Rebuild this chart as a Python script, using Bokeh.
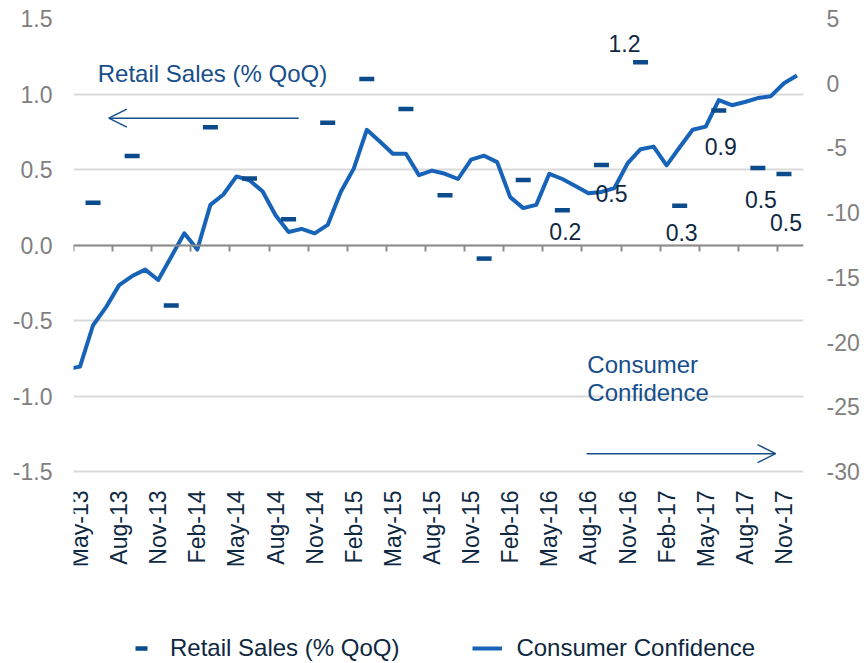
import math
import pandas as pd
from bokeh.plotting import figure
from bokeh.models import (ColumnDataSource, Range1d, LinearAxis, FixedTicker, NumeralTickFormatter,
                          Legend, LegendItem, Arrow, OpenHead, Label, Grid)
from bokeh.embed import file_html
from bokeh.resources import INLINE
from bokeh.core.properties import value

# ---------------- data ----------------
cc_months = [d.strftime("%b-%y") for d in pd.date_range("2013-04-01", "2017-12-01", freq="MS")]
cc_values = [-22.1, -21.9, -18.7, -17.3, -15.6, -14.9, -14.4, -15.2, -13.4, -11.6, -12.85, -9.4, -8.6,
             -7.2, -7.5, -8.35, -10.2, -11.5, -11.25, -11.6, -10.95, -8.4, -6.6, -3.6, -4.5, -5.45,
             -5.45, -7.1, -6.75, -7.0, -7.4, -5.9, -5.6, -6.1, -8.8, -9.65, -9.4, -7.0, -7.4, -7.95,
             -8.5, -8.4, -8.1, -6.2, -5.1, -4.9, -6.35, -4.95, -3.6, -3.35, -1.3, -1.7, -1.45, -1.15,
             -1.0, 0.0, 0.6]

retail_months = ["Jun-13", "Sep-13", "Dec-13", "Mar-14", "Jun-14", "Sep-14", "Dec-14", "Mar-15",
                 "Jun-15", "Sep-15", "Dec-15", "Mar-16", "Jun-16", "Sep-16", "Dec-16", "Mar-17",
                 "Jun-17", "Sep-17", "Nov-17"]
retail_values = [0.28, 0.59, -0.40, 0.78, 0.44, 0.17, 0.81, 1.10, 0.90, 0.33, -0.09, 0.43, 0.23,
                 0.53, 1.21, 0.26, 0.89, 0.51, 0.47]

labelled_months = ["Jun-16", "Sep-16", "Dec-16", "Mar-17", "Jun-17", "Sep-17", "Nov-17"]

tick_labels = ["May-13", "Aug-13", "Nov-13", "Feb-14", "May-14", "Aug-14", "Nov-14", "Feb-15",
               "May-15", "Aug-15", "Nov-15", "Feb-16", "May-16", "Aug-16", "Nov-16", "Feb-17",
               "May-17", "Aug-17", "Nov-17"]
first_month, last_month = "May-13", "Dec-17"
left_ticks = [-1.5, -1.0, -0.5, 0.0, 0.5, 1.0, 1.5]
right_ticks = [-30, -25, -20, -15, -10, -5, 0, 5]

# ---------------- layout ----------------
W, H = 864, 663
FRAME_TOP, AXIS_BOTTOM = 18, 471          # pixel rows of the top and bottom value ticks
base = cc_months.index(first_month)
pos = {m: i - base for i, m in enumerate(cc_months)}
# the frame reaches the bottom of the page, so that the legend can sit inside it
ext = (H - FRAME_TOP) / (AXIS_BOTTOM - FRAME_TOP)
l_lo, l_hi = left_ticks[0], left_ticks[-1]
r_lo, r_hi = right_ticks[0], right_ticks[-1]
y_start_left = l_hi - (l_hi - l_lo) * ext
y_start_right = r_hi - (r_hi - r_lo) * ext

# screen offsets of the value labels (px, +down)
label_offsets = {"Jun-16": (3, 21), "Sep-16": (10, 29), "Dec-16": (-16, -19), "Mar-17": (2, 27),
                 "Jun-17": (2, 36), "Sep-17": (3, 32), "Nov-17": (2, 48)}

FONT = "Liberation Sans"
NAVY = "#0E2841"
GREY = "#7F7F7F"
LINE_BLUE = "#1763B7"
DASH_BLUE = "#0B4A8B"
ANN_BLUE = "#174E8C"

p = figure(width=W, height=H, output_backend="svg", toolbar_location=None,
           x_range=Range1d(pos[first_month] - 0.5, pos[last_month] + 0.5),
           y_range=Range1d(y_start_left, l_hi),
           x_axis_type=None, y_axis_type=None,
           min_border_left=73, min_border_right=61, min_border_top=FRAME_TOP, min_border_bottom=0)
p.extra_y_ranges = {"cc": Range1d(y_start_right, r_hi)}
p.outline_line_color = None
p.background_fill_color = "white"
p.border_fill_color = "white"

# left axis
yl = LinearAxis(ticker=FixedTicker(ticks=left_ticks), formatter=NumeralTickFormatter(format="0.0"),
                axis_line_color=None, major_tick_line_color=None, minor_tick_line_color=None,
                major_tick_in=0, major_tick_out=0, major_label_standoff=21,
                major_label_text_font=FONT, major_label_text_font_size="23px",
                major_label_text_color=GREY)
p.add_layout(yl, "left")

# right axis
yr = LinearAxis(y_range_name="cc", ticker=FixedTicker(ticks=right_ticks),
                formatter=NumeralTickFormatter(format="0"),
                axis_line_color=None, major_tick_line_color=None, minor_tick_line_color=None,
                major_tick_in=0, major_tick_out=0, major_label_standoff=23,
                major_label_text_font=FONT, major_label_text_font_size="23px",
                major_label_text_color=GREY)
p.add_layout(yr, "right")

# grid
p.add_layout(Grid(dimension=1, ticker=FixedTicker(ticks=left_ticks), grid_line_color="#D9D9D9",
                  grid_line_width=2))

# bottom labels axis, sitting under the lowest value tick
label_pos = [pos[t] for t in tick_labels]
xb = LinearAxis(fixed_location=l_lo, ticker=FixedTicker(ticks=label_pos),
                major_label_overrides={lp: t for lp, t in zip(label_pos, tick_labels)},
                major_label_orientation=math.pi / 2,
                axis_line_color=None, major_tick_line_color=None, minor_tick_line_color=None,
                major_tick_in=0, major_tick_out=0, major_label_standoff=19,
                major_label_text_font=FONT, major_label_text_font_size="23px",
                major_label_text_color=NAVY)
p.add_layout(xb, "below")

# zero line with category boundary ticks
x0 = LinearAxis(fixed_location=0, ticker=FixedTicker(ticks=[lp - 0.5 for lp in label_pos]),
                major_label_overrides={lp - 0.5: "" for lp in label_pos},
                axis_line_color="#8C8C8C", axis_line_width=2,
                major_tick_line_color="#8C8C8C", major_tick_line_width=2,
                major_tick_in=0, major_tick_out=6, minor_tick_line_color=None,
                major_label_text_font_size="0px")
p.add_layout(x0, "below")

# consumer confidence line
cc_src = ColumnDataSource(dict(x=[pos[m] for m in cc_months], y=cc_values))
r_cc = p.line("x", "y", source=cc_src, y_range_name="cc", line_color=LINE_BLUE, line_width=4,
              line_join="round")

# retail sales dashes
rs_src = ColumnDataSource(dict(x=[pos[m] for m in retail_months], y=retail_values))
r_rs = p.scatter("x", "y", source=rs_src, marker="dash", size=15, line_color=DASH_BLUE,
                 line_width=4.5)

# value labels
lab_vals = [retail_values[retail_months.index(m)] for m in labelled_months]
lab_src = ColumnDataSource(dict(
    x=[pos[m] for m in labelled_months], y=lab_vals,
    text=[f"{v:.1f}" for v in lab_vals],
    xo=[label_offsets[m][0] for m in labelled_months],
    yo=[label_offsets[m][1] for m in labelled_months]))
p.text("x", "y", text="text", source=lab_src, x_offset="xo", y_offset="yo",
       text_align="center", text_baseline="middle", text_font=value(FONT),
       text_font_size="23px", text_color=NAVY)

# annotations
p.add_layout(Label(x=1.36, y=1.139, text="Retail Sales (% QoQ)", text_align="left",
                   text_baseline="middle", text_font=FONT, text_font_size="24px",
                   text_color=ANN_BLUE))
p.add_layout(Arrow(end=OpenHead(size=18, line_color=ANN_BLUE, line_width=1.5),
                   x_start=16.78, y_start=0.84, x_end=2.21, y_end=0.84,
                   line_color=ANN_BLUE, line_width=1.5))
p.add_layout(Label(x=38.92, y=-0.79, text="Consumer", text_align="left",
                   text_baseline="middle", text_font=FONT, text_font_size="24px",
                   text_color=ANN_BLUE))
p.add_layout(Label(x=38.92, y=-0.978, text="Confidence", text_align="left",
                   text_baseline="middle", text_font=FONT, text_font_size="24px",
                   text_color=ANN_BLUE))
p.add_layout(Arrow(end=OpenHead(size=18, line_color=ANN_BLUE, line_width=1.5),
                   x_start=38.86, y_start=-1.382, x_end=53.36, y_end=-1.382,
                   line_color=ANN_BLUE, line_width=1.5))

# legend (inside the frame's lower strip)
legend = Legend(items=[LegendItem(label="Retail Sales (% QoQ)", renderers=[r_rs]),
                       LegendItem(label="Consumer Confidence", renderers=[r_cc])],
                orientation="horizontal", location=(53, 0),
                border_line_color=None, background_fill_alpha=0, padding=0, margin=0,
                spacing=73, glyph_width=30, glyph_height=30, label_height=22,
                label_standoff=14, label_text_font=FONT, label_text_font_size="24px",
                label_text_color=NAVY)
p.add_layout(legend, "center")

open("out.html", "w").write(file_html(p, INLINE))
